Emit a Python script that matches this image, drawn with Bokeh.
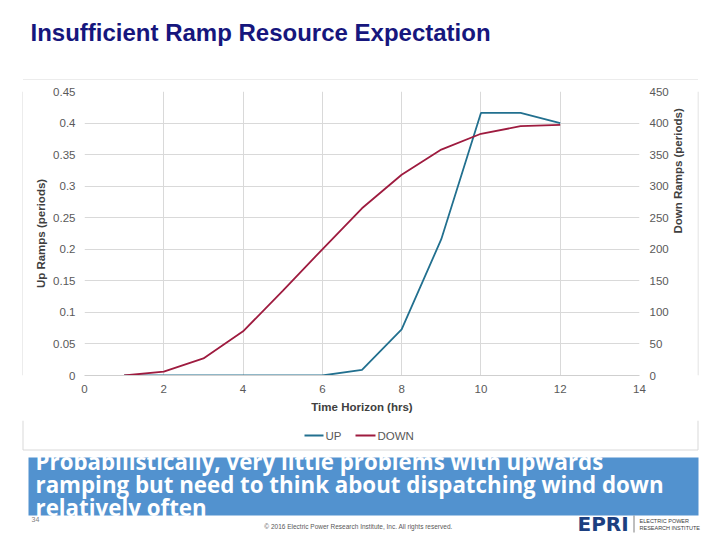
import math
from bokeh.plotting import figure
from bokeh.layouts import column, row
from bokeh.models import Range1d, LinearAxis, FixedTicker
from bokeh.core.properties import value
from bokeh.embed import file_html
from bokeh.resources import INLINE

# ---------------- data ----------------
hours = [1, 2, 3, 4, 5, 6, 7, 8, 9, 10, 11, 12]
up_ramps = [0, 0, 0, 0, 0, 0, 0.009, 0.073, 0.216, 0.416, 0.416, 0.400]
down_ramps = [0, 6, 27, 70, 134, 200, 265, 318, 358, 383, 395, 397]

x_ticks = [0, 2, 4, 6, 8, 10, 12, 14]
left_ticks = [0, 0.05, 0.1, 0.15, 0.2, 0.25, 0.3, 0.35, 0.4, 0.45]
left_tick_labels = ["0", "0.05", "0.1", "0.15", "0.2", "0.25", "0.3", "0.35", "0.4", "0.45"]
right_ticks = [0, 50, 100, 150, 200, 250, 300, 350, 400, 450]

title_text = "Insufficient Ramp Resource Expectation"
x_label = "Time Horizon (hrs)"
left_label = "Up Ramps (periods)"
right_label = "Down Ramps (periods)"
series_names = ["UP", "DOWN"]
banner_lines = [
    "Probabilistically, very little problems with upwards",
    "ramping but need to think about dispatching wind down",
    "relatively often",
]
page_number = "34"
copyright_text = "\u00a9 2016 Electric Power Research Institute, Inc. All rights reserved."
logo_text = "EPRI"
logo_sub = ["ELECTRIC POWER", "RESEARCH INSTITUTE"]

# ---------------- style ----------------
UP_COLOR = "#22708F"
DOWN_COLOR = "#9E1B3F"
GRID = "#D9D9D9"
BOXC = "#D9D9D9"
TICK_COLOR = "#595959"
FONT = "Liberation Sans"


def blank(width, height, xr, yr):
    f = figure(width=width, height=height, output_backend="svg", toolbar_location=None,
               x_range=Range1d(*xr), y_range=Range1d(*yr),
               x_axis_type=None, y_axis_type=None)
    f.min_border = 0
    f.min_border_left = f.min_border_right = f.min_border_top = f.min_border_bottom = 0
    f.outline_line_color = None
    f.grid.visible = False
    return f


def txt(f, x, y, s, size, color, style="normal", font=FONT, align="left", baseline="alphabetic"):
    f.text(x=[x], y=[y], text=[s], text_font=value(font), text_font_size=size,
           text_color=color, text_font_style=style, text_align=align, text_baseline=baseline)


# ---------------- top strip (title) ----------------
top = blank(720, 80, (0, 720), (80, 0))
txt(top, 30, 31.5, title_text, "24px", "#16167D", style="bold")
top.segment(x0=[22.5], y0=[79.5], x1=[697.5], y1=[79.5], line_color=BOXC, line_width=1)

# ---------------- side strips (chart box edges) ----------------
left_strip = blank(23, 340, (0, 23), (0, 1))
left_strip.segment(x0=[22.5], y0=[0], x1=[22.5], y1=[1], line_color=BOXC, line_width=1)
right_strip = blank(23, 340, (697, 720), (0, 1))
right_strip.segment(x0=[697.5], y0=[0], x1=[697.5], y1=[1], line_color=BOXC, line_width=1)

# ---------------- chart ----------------
p = figure(width=674, height=340, output_backend="svg", toolbar_location=None,
           x_range=Range1d(0, 14), y_range=Range1d(0, 0.45),
           min_border_left=61, min_border_right=58, min_border_top=11, min_border_bottom=45)
p.outline_line_color = None
p.extra_y_ranges = {"down": Range1d(0, 450)}

p.xaxis.ticker = FixedTicker(ticks=x_ticks)
p.yaxis.ticker = FixedTicker(ticks=left_ticks)
p.yaxis.major_label_overrides = {t: s for t, s in zip(left_ticks, left_tick_labels)}
right_axis = LinearAxis(y_range_name="down", ticker=FixedTicker(ticks=right_ticks))
p.add_layout(right_axis, "right")

p.xaxis.axis_label = x_label
p.yaxis.axis_label = left_label
right_axis.axis_label = right_label
right_axis.axis_label_orientation = math.pi / 2

for ax in [p.xaxis[0], p.yaxis[0], right_axis]:
    ax.major_tick_line_color = None
    ax.minor_tick_line_color = None
    ax.major_tick_out = 0
    ax.major_tick_in = 0
    ax.minor_tick_out = 0
    ax.minor_tick_in = 0
    ax.major_label_text_font = FONT
    ax.major_label_text_font_size = "11.5px"
    ax.major_label_text_color = TICK_COLOR
    ax.axis_label_text_font = FONT
    ax.axis_label_text_font_size = "11.5px"
    ax.axis_label_text_font_style = "bold"
    ax.axis_label_text_color = "#404040"
    ax.axis_line_color = None

p.xaxis.axis_line_color = "#CFCFCF"
p.xaxis.major_label_standoff = 9
p.xaxis.axis_label_standoff = 5
p.yaxis.major_label_standoff = 9
p.yaxis.axis_label_standoff = 3
right_axis.major_label_standoff = 10
right_axis.axis_label_standoff = 6

p.xgrid.ticker = FixedTicker(ticks=x_ticks)
p.ygrid.ticker = FixedTicker(ticks=left_ticks)
p.xgrid.grid_line_color = GRID
p.ygrid.grid_line_color = GRID

p.line(hours, up_ramps, line_color=UP_COLOR, line_width=1.8)
p.line(hours, down_ramps, line_color=DOWN_COLOR, line_width=1.8, y_range_name="down")

# ---------------- bottom strip (legend, banner, footer) ----------------
bot = blank(720, 120, (0, 720), (540, 420))
# rest of chart box
bot.segment(x0=[22.5, 697.5, 22.5], y0=[420, 420, 449.5], x1=[22.5, 697.5, 697.5], y1=[449.5, 449.5, 449.5],
            line_color=BOXC, line_width=1)
# legend
bot.segment(x0=[304], y0=[435], x1=[323], y1=[435], line_color=UP_COLOR, line_width=2)
txt(bot, 325, 435, series_names[0], "11.5px", TICK_COLOR, baseline="middle")
bot.segment(x0=[355], y0=[435], x1=[375], y1=[435], line_color=DOWN_COLOR, line_width=2)
txt(bot, 377, 435, series_names[1], "11.5px", TICK_COLOR, baseline="middle")
# banner
bot.quad(left=[28], right=[698], top=[457], bottom=[515], fill_color="#5292CF", line_color=None)
for i, line in enumerate(banner_lines):
    txt(bot, 35, 461 + 23 * i, line, "22.3px", "white", style="bold", font="Open Sans")
# footer
txt(bot, 31, 519, page_number, "7px", "#7F7F7F", baseline="middle")
txt(bot, 358, 526, copyright_text, "6.5px", "#595959", align="center", baseline="middle")
txt(bot, 577, 523, logo_text, "20px", "#1C3F80", style="bold", font="DejaVu Sans")
bot.segment(x0=[633.5], y0=[515], x1=[633.5], y1=[532], line_color="#7F7F7F", line_width=1)
txt(bot, 639, 520, logo_sub[0], "5.5px", "#404040", baseline="middle")
txt(bot, 639, 527, logo_sub[1], "5.5px", "#404040", baseline="middle")

layout = column(top, row(left_strip, p, right_strip), bot)
open("out.html", "w").write(file_html(layout, INLINE))
